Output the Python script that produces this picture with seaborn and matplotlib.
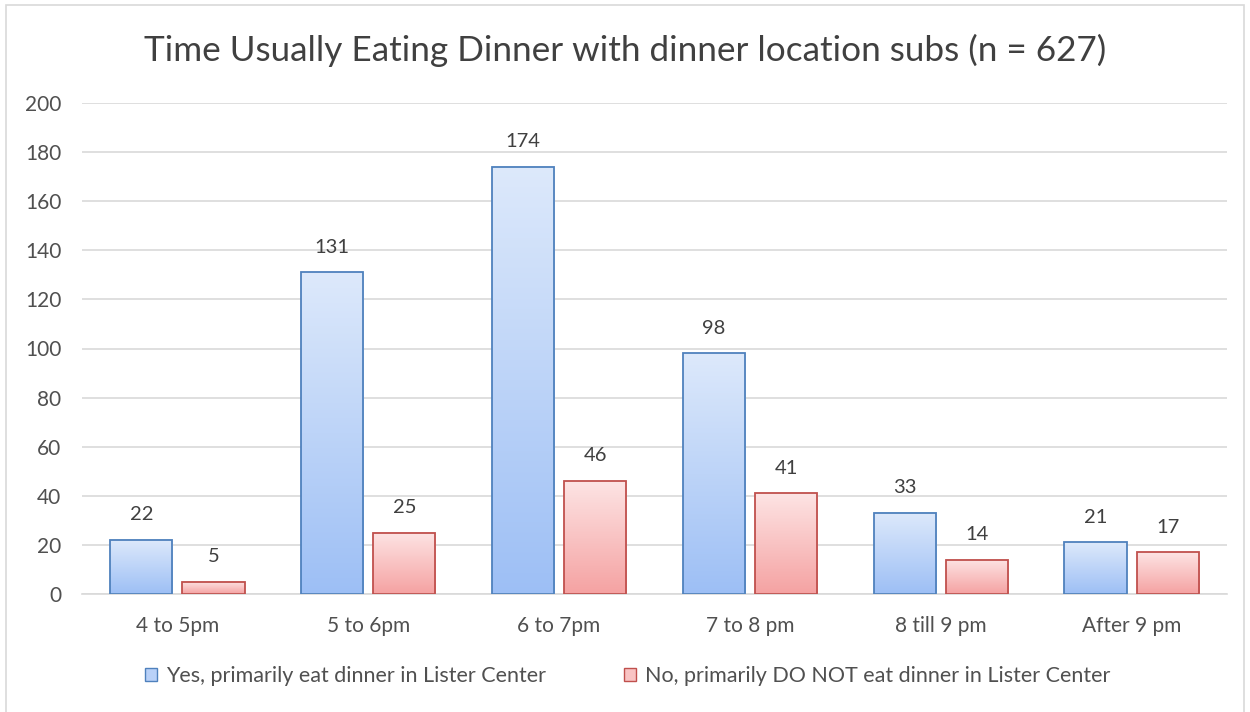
import numpy as np
import pandas as pd
import matplotlib
matplotlib.use("Agg")
import matplotlib.pyplot as plt
import seaborn as sns
from matplotlib.colors import LinearSegmentedColormap
from matplotlib.patches import Rectangle

# data
times = ["4 to 5pm", "5 to 6pm", "6 to 7pm", "7 to 8 pm", "8 till 9 pm", "After 9 pm"]
yes_counts = [22, 131, 174, 98, 33, 21]
no_counts = [5, 25, 46, 41, 14, 17]
yes_label = "Yes, primarily eat dinner in Lister Center"
no_label = "No, primarily DO NOT eat dinner in Lister Center"
y_ticks = [0, 20, 40, 60, 80, 100, 120, 140, 160, 180, 200]

df = pd.DataFrame({
    "time": times * 2,
    "count": yes_counts + no_counts,
    "group": [yes_label] * len(times) + [no_label] * len(times),
})

sns.set_theme(style="white")
plt.rcParams["font.family"] = ["Lato", "DejaVu Sans"]

fig = plt.figure(figsize=(12.5, 7.12), dpi=100)
ax = fig.add_axes([82 / 1250, 1 - 594 / 712, 1145 / 1250, 491 / 712])

edge_cols = {yes_label: "#4f81bd", no_label: "#c0504d"}
grad = {
    yes_label: LinearSegmentedColormap.from_list("b", ["#9dbff5", "#dde9fb"]),
    no_label: LinearSegmentedColormap.from_list("r", ["#f5a2a2", "#fde4e4"]),
}

sns.barplot(data=df, x="time", y="count", hue="group", order=times,
            hue_order=[yes_label, no_label], palette=edge_cols,
            width=0.756, gap=0.14, ax=ax, legend=False, zorder=2)

# gradient fill inside each bar, plus edge + value label
ramp = np.linspace(0, 1, 256).reshape(-1, 1)
for cont, grp in zip(ax.containers, [yes_label, no_label]):
    for bar in cont:
        x0, w, h = bar.get_x(), bar.get_width(), bar.get_height()
        bar.set_facecolor("none")
        bar.set_edgecolor(edge_cols[grp])
        bar.set_linewidth(1.3)
        bar.set_zorder(3)
        ax.imshow(ramp, cmap=grad[grp], aspect="auto", origin="lower",
                  extent=(x0, x0 + w, 0, h), zorder=2.5)
        ax.annotate(f"{int(h)}", (x0 + w / 2, h), xytext=(0, 12),
                    textcoords="offset points", ha="center", va="bottom",
                    fontsize=14.5, color="#404040")

ax.set_xlim(-0.5, len(times) - 0.5)
ax.set_ylim(0, 200)
ax.set_yticks(y_ticks)
ax.yaxis.grid(True, color="#d9d9d9", linewidth=1.2, zorder=0)
ax.set_axisbelow(True)
for s in ["top", "right", "left"]:
    ax.spines[s].set_visible(False)
ax.spines["bottom"].set_color("#d9d9d9")
ax.spines["bottom"].set_linewidth(1.2)
ax.tick_params(axis="both", length=0, labelsize=15, labelcolor="#505050")
ax.tick_params(axis="y", pad=15)
ax.tick_params(axis="x", pad=16)
ax.set_xlabel("")
ax.set_ylabel("")

fig.text(0.5, 1 - 50 / 712, "Time Usually Eating Dinner with dinner location subs (n = 627)",
         ha="center", va="center", fontsize=25.3, color="#404040")

handles = [Rectangle((0, 0), 1, 1, facecolor="#b9d1f8", edgecolor=edge_cols[yes_label], linewidth=1),
           Rectangle((0, 0), 1, 1, facecolor="#f9c4c4", edgecolor=edge_cols[no_label], linewidth=1)]
fig.legend(handles, [yes_label, no_label], loc="center", bbox_to_anchor=(0.502, 1 - 676 / 712),
           ncol=2, frameon=False, fontsize=15.5, handlelength=0.6, handleheight=0.6,
           handletextpad=0.4, columnspacing=3.6, labelcolor="#505050")

# outer chart border
fig.add_artist(Rectangle((6 / 1250, -0.01), 1238 / 1250, 1 - 5 / 712 + 0.01,
                         transform=fig.transFigure, fill=False,
                         edgecolor="#d9d9d9", linewidth=1.2))

fig.savefig("out.png", dpi=100)
